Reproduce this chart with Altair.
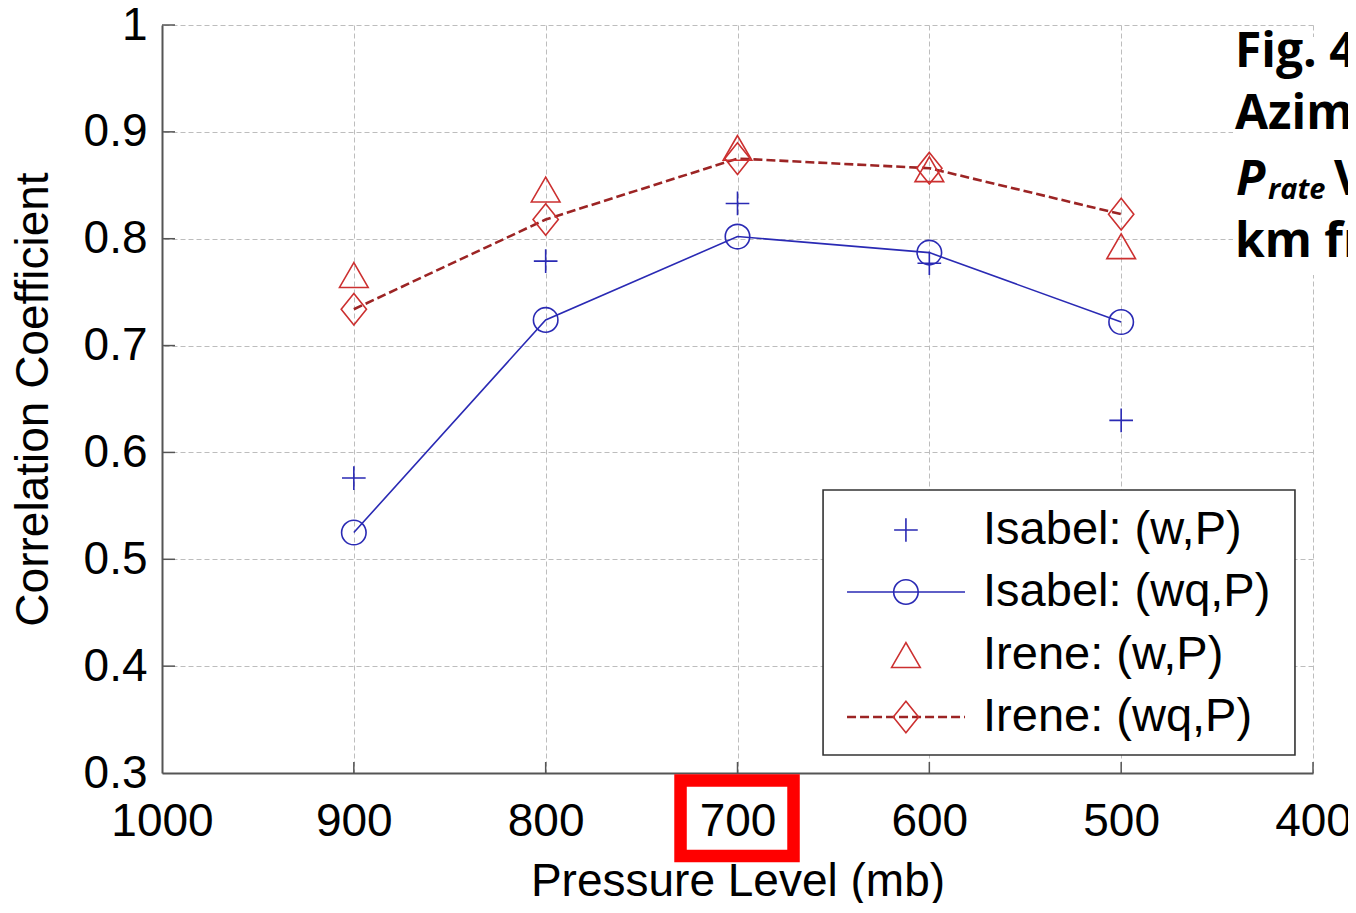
import altair as alt
import pandas as pd

# ---------------- values ----------------
pressure = [900, 800, 700, 600, 500]
isabel_w = [0.576, 0.779, 0.833, 0.777, 0.630]
isabel_wq = [0.525, 0.724, 0.802, 0.787, 0.722]
irene_w = [0.766, 0.846, 0.885, 0.865, 0.793]
irene_wq = [0.734, 0.818, 0.875, 0.866, 0.823]

series_names = ["Isabel: (w,P)", "Isabel: (wq,P)", "Irene: (w,P)", "Irene: (wq,P)"]
x_ticks = [1000, 900, 800, 700, 600, 500, 400]
y_ticks = [0.3, 0.4, 0.5, 0.6, 0.7, 0.8, 0.9, 1.0]
x_title = "Pressure Level (mb)"
y_title = "Correlation Coefficient"
caption_lines = ["Fig. 4", "Azim", "km fr"]
caption_p = ["P", "rate", "V"]

# ---------------- layout / style ----------------
W, H = 1151, 748
PAD = {"left": 154, "top": 17, "right": 35, "bottom": 130}
BLUE = "#2a2ab4"
RED = "#cc3030"
RED_LINE = "#9c2424"
AXIS_GRAY = "#555555"
FONT = "Liberation Sans"
PLUS = "M-1,0L1,0M0,-1L0,1"
DIAMOND = "M0,-1L0.8,0L0,1L-0.8,0Z"

xscale = alt.Scale(domain=[400, 1000], reverse=True, nice=False, zero=False)
yscale = alt.Scale(domain=[0.3, 1.0], nice=False, zero=False)

xaxis = alt.Axis(
    values=x_ticks, format="d", title=x_title, grid=True, gridDash=[5, 3],
    gridColor="#bdbdbd", gridWidth=1, ticks=False, tickSize=0,
    domainColor=AXIS_GRAY, domainWidth=2, labelFont=FONT, labelFontSize=46,
    labelColor="black", labelPadding=62, labelBaseline="alphabetic",
    labelFlush=False, labelOverlap=False, labelBound=False,
    titleFont=FONT, titleFontSize=46, titleFontWeight="normal",
    titleColor="black", titleBaseline="alphabetic", titleY=122,
)
yaxis = alt.Axis(
    values=y_ticks, format=".1~f", title=y_title, grid=True, gridDash=[5, 3],
    gridColor="#bdbdbd", gridWidth=1, ticks=False, tickSize=0,
    domainColor=AXIS_GRAY, domainWidth=2, labelFont=FONT, labelFontSize=46,
    labelColor="black", labelPadding=15, labelBaseline="middle",
    labelFlush=False, labelOverlap=False, labelBound=False,
    titleFont=FONT, titleFontSize=46, titleFontWeight="normal",
    titleColor="black", titleAngle=270, titleBaseline="alphabetic",
    titleAlign="center", titleX=-115, titleY=374,
)


def X(field):
    return alt.X(field, type="quantitative", scale=xscale, axis=xaxis)


def Y(field):
    return alt.Y(field, type="quantitative", scale=yscale, axis=yaxis)


def series_df(values):
    return pd.DataFrame({"p": pressure, "r": values})


layers = []

# lines
layers.append(alt.Chart(series_df(isabel_wq)).mark_line(color=BLUE, strokeWidth=1.6)
              .encode(x=X("p"), y=Y("r")))
layers.append(alt.Chart(series_df(irene_wq)).mark_line(color=RED_LINE, strokeWidth=2.6,
                                                       strokeDash=[9, 4])
              .encode(x=X("p"), y=Y("r")))

# markers
marker_specs = [
    (isabel_w, PLUS, 560, BLUE),
    (isabel_wq, "circle", 600, BLUE),
    (irene_w, "triangle-up", 820, RED),
    (irene_wq, DIAMOND, 1000, RED),
]
for vals, shp, sz, col in marker_specs:
    layers.append(alt.Chart(series_df(vals)).mark_point(
        shape=shp, size=sz, color=col, filled=False, strokeWidth=1.6, opacity=1)
        .encode(x=X("p"), y=Y("r")))

# inward tick marks
layers.append(alt.Chart(pd.DataFrame({"p": x_ticks[1:]})).mark_rule(
    color=AXIS_GRAY, strokeWidth=1.5)
    .encode(x=X("p"), y=alt.value(H), y2=alt.value(H - 11)))
layers.append(alt.Chart(pd.DataFrame({"r": y_ticks[1:]})).mark_rule(
    color=AXIS_GRAY, strokeWidth=1.5)
    .encode(y=Y("r"), x=alt.value(0), x2=alt.value(13)))

# legend box (in data coordinates)
LEG_LEFT, LEG_RIGHT = 655.4, 409.4
LEG_TOP, LEG_BOTTOM = 0.5648, 0.3168
LEG_ROWS = [0.5274, 0.4694, 0.4104, 0.3524]
LEG_SYM_X = 612.2
LEG_LINE = (642.9, 581.4)
LEG_TEXT_X = 572.0

layers.append(alt.Chart(pd.DataFrame({"x1": [LEG_LEFT], "x2": [LEG_RIGHT],
                                      "y1": [LEG_TOP], "y2": [LEG_BOTTOM]}))
              .mark_rect(fill="white", stroke="#333333", strokeWidth=1.6)
              .encode(x=X("x1"), x2="x2", y=Y("y1"), y2="y2"))
for i, style in [(1, dict(color=BLUE, strokeWidth=1.6)),
                 (3, dict(color=RED_LINE, strokeWidth=2.6, strokeDash=[9, 4]))]:
    layers.append(alt.Chart(pd.DataFrame({"x1": [LEG_LINE[0]], "x2": [LEG_LINE[1]],
                                          "y": [LEG_ROWS[i]]}))
                  .mark_rule(**style).encode(x=X("x1"), x2="x2", y=Y("y")))
for i, (vals, shp, sz, col) in enumerate(marker_specs):
    layers.append(alt.Chart(pd.DataFrame({"x": [LEG_SYM_X], "y": [LEG_ROWS[i]]}))
                  .mark_point(shape=shp, size=sz, color=col, filled=False,
                              strokeWidth=1.6, opacity=1)
                  .encode(x=X("x"), y=Y("y")))
layers.append(alt.Chart(pd.DataFrame({"x": [LEG_TEXT_X] * 4, "y": LEG_ROWS,
                                      "t": series_names}))
              .mark_text(font=FONT, fontSize=47, align="left", baseline="middle",
                         color="black")
              .encode(x=X("x"), y=Y("y"), text="t:N"))

# red highlight box around the 700 label
layers.append(alt.Chart(pd.DataFrame({"x1": [729.7], "x2": [670.8],
                                      "y1": [0.293], "y2": [0.2223]}))
              .mark_rect(filled=False, color="#ff0000", strokeWidth=12.5)
              .encode(x=X("x1"), x2="x2", y=Y("y1"), y2="y2"))

# caption text (clipped at the right edge like the slide)
layers.append(alt.Chart(pd.DataFrame({"a": [0]})).mark_rect(fill="white")
              .encode(x=alt.value(1071), x2=alt.value(1200),
                      y=alt.value(12), y2=alt.value(250)))
CAP_FONT = "Open Sans"
for txt, yy in zip(caption_lines, [42, 104, 232]):
    layers.append(alt.Chart(pd.DataFrame({"a": [0]})).mark_text(
        text=txt, font=CAP_FONT, fontWeight="bold", fontSize=48, align="left",
        baseline="alphabetic", color="black")
        .encode(x=alt.value(1073), y=alt.value(yy)))
for txt, xx, yy, fs, sty in [(caption_p[0], 1074, 170, 48, "italic"),
                              (caption_p[1], 1106, 174, 29, "italic"),
                              (caption_p[2], 1172, 170, 48, "normal")]:
    layers.append(alt.Chart(pd.DataFrame({"a": [0]})).mark_text(
        text=txt, font=CAP_FONT, fontWeight="bold", fontStyle=sty, fontSize=fs,
        align="left", baseline="alphabetic", color="black")
        .encode(x=alt.value(xx), y=alt.value(yy)))

chart = alt.layer(*layers).properties(
    width=W, height=H,
    autosize=alt.AutoSizeParams(type="none"),
    padding=PAD,
    background="white",
).configure_view(stroke=None)

chart.save("out.html", embed_options={"renderer": "svg", "actions": False})
